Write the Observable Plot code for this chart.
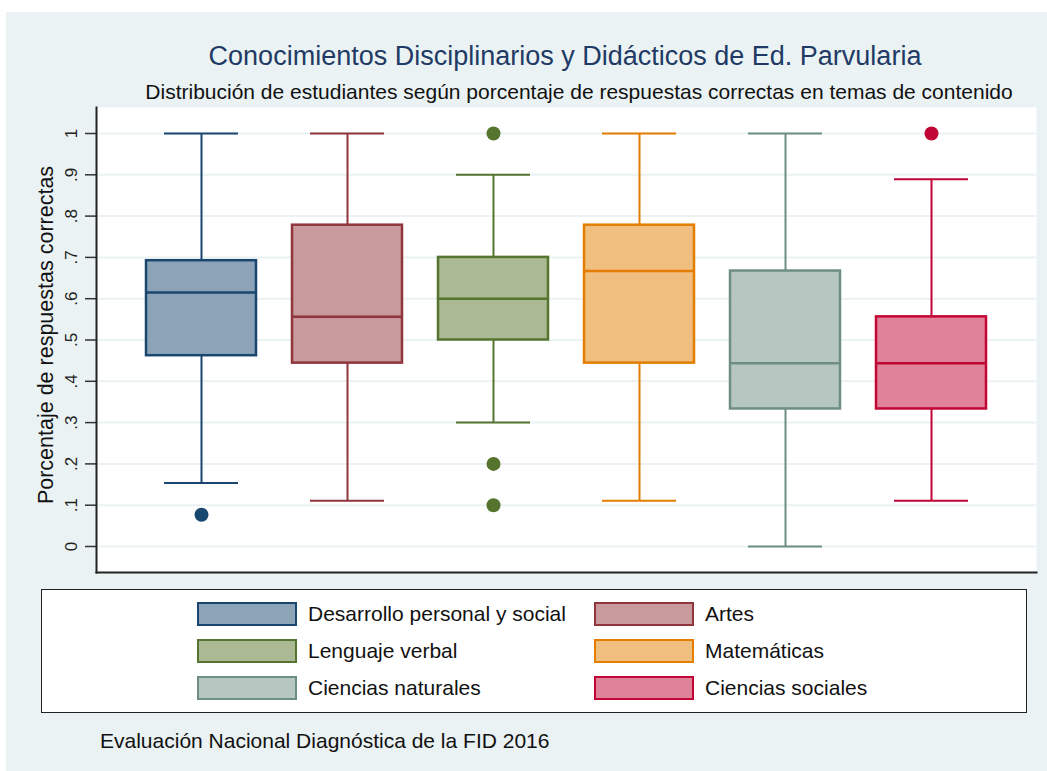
<!DOCTYPE html>
<html>
<head>
<meta charset="utf-8">
<script src="https://cdn.jsdelivr.net/npm/d3@7"></script>
<script src="https://cdn.jsdelivr.net/npm/@observablehq/plot@0.6"></script>
<style>
  html, body { margin: 0; padding: 0; background: #ffffff; }
  body { width: 1047px; height: 771px; position: relative; overflow: hidden; font-family: "Liberation Sans", Arial, sans-serif; }
  #bg { position: absolute; left: 6px; top: 12px; width: 1041px; height: 759px; background: #eaf2f3; }
  .title { position: absolute; white-space: nowrap; transform: translate(-50%, -50%); line-height: 1; }
  #chart { position: absolute; left: 6px; top: 95px; }
  #ylabel { position: absolute; left: 47px; top: 335px; transform: translate(-50%, -50%) rotate(-90deg); font-size: 21.5px; color: #111; white-space: nowrap; line-height: 1; }
  #legend { position: absolute; left: 41px; top: 589px; width: 984px; height: 122px; background: #fff; border: 1.5px solid #222; }
  .item { position: absolute; height: 24px; }
  .sw { position: absolute; left: 0; top: 0; width: 96px; height: 20px; border-width: 2.5px; border-style: solid; }
  .lab { position: absolute; left: 111px; top: 0; line-height: 24px; font-size: 21px; color: #111; white-space: nowrap; }
  #caption { position: absolute; left: 100px; top: 740px; transform: translateY(-50%); line-height: 1; font-size: 21px; color: #111; white-space: nowrap; }
</style>
</head>
<body>
<div id="bg"></div>
<div class="title" id="title" style="left:565px; top:56px; font-size:27px; color:#1f3a64;"></div>
<div class="title" id="subtitle" style="left:579px; top:91px; font-size:21px; color:#111;"></div>
<div id="chart"></div>
<div id="ylabel"></div>
<div id="legend"></div>
<div id="caption"></div>
<script>
const titleText = "Conocimientos Disciplinarios y Didácticos de Ed. Parvularia";
const subtitleText = "Distribución de estudiantes según porcentaje de respuestas correctas en temas de contenido";
const captionText = "Evaluación Nacional Diagnóstica de la FID 2016";
const yLabel = "Porcentaje de respuestas correctas";

const categories = ["Desarrollo personal y social", "Artes", "Lenguaje verbal", "Matemáticas", "Ciencias naturales", "Ciencias sociales"];
const lowerWhisker = [0.154, 0.111, 0.3, 0.111, 0.0, 0.111];
const q1 = [0.462, 0.444, 0.5, 0.444, 0.333, 0.333];
const median = [0.615, 0.556, 0.6, 0.667, 0.444, 0.444];
const q3 = [0.692, 0.778, 0.7, 0.778, 0.667, 0.556];
const upperWhisker = [1.0, 1.0, 0.9, 1.0, 1.0, 0.889];

const outlierCategory = ["Desarrollo personal y social", "Lenguaje verbal", "Lenguaje verbal", "Lenguaje verbal", "Ciencias sociales"];
const outlierValue = [0.077, 1.0, 0.2, 0.1, 1.0];

const strokeColors = ["#1a476f", "#90353b", "#55752f", "#e37e00", "#6e8e84", "#c10534"];
const fillColors = ["#8da3b7", "#c8999d", "#abb994", "#f0be7f", "#b6c6c1", "#e08299"];

const yTicks = [0, 0.1, 0.2, 0.3, 0.4, 0.5, 0.6, 0.7, 0.8, 0.9, 1];
const yTickLabels = ["0", ".1", ".2", ".3", ".4", ".5", ".6", ".7", ".8", ".9", "1"];

document.getElementById("title").textContent = titleText;
document.getElementById("subtitle").textContent = subtitleText;
document.getElementById("caption").textContent = captionText;
document.getElementById("ylabel").textContent = yLabel;

const boxes = categories.map((c, i) => ({
  cat: c, lo: lowerWhisker[i], q1: q1[i], med: median[i], q3: q3[i], hi: upperWhisker[i],
  stroke: strokeColors[i], fill: fillColors[i]
}));
const outliers = outlierCategory.map((c, i) => ({cat: c, v: outlierValue[i], color: strokeColors[categories.indexOf(c)]}));

const chart = Plot.plot({
  width: 1041,
  height: 481,
  marginLeft: 90,
  marginRight: 11,
  marginTop: 12,
  marginBottom: 4,
  style: {background: "transparent", fontFamily: "Liberation Sans, Arial, sans-serif", overflow: "visible"},
  x: {domain: categories, paddingInner: 0.25, paddingOuter: 0.33, axis: null},
  y: {domain: [0, 1], insetTop: 26, insetBottom: 26, axis: null},
  marks: [
    Plot.frame({fill: "white", stroke: null}),
    Plot.gridY(yTicks, {stroke: "#eaf2f3", strokeOpacity: 1, strokeWidth: 2}),
    Plot.ruleX(boxes, {x: "cat", y1: "lo", y2: "hi", stroke: "stroke", strokeWidth: 2}),
    Plot.tickY(boxes, {x: "cat", y: "lo", stroke: "stroke", strokeWidth: 2, insetLeft: 18, insetRight: 18}),
    Plot.tickY(boxes, {x: "cat", y: "hi", stroke: "stroke", strokeWidth: 2, insetLeft: 18, insetRight: 18}),
    Plot.barY(boxes, {x: "cat", y1: "q1", y2: "q3", fill: "fill", stroke: "stroke", strokeWidth: 2.5}),
    Plot.tickY(boxes, {x: "cat", y: "med", stroke: "stroke", strokeWidth: 2.5}),
    Plot.dot(outliers, {x: "cat", y: "v", r: 7, fill: "color", stroke: null}),
    Plot.axisY(yTicks, {
      tickSize: 11, tickPadding: 9, tickRotate: -90, fontSize: 17, color: "#222", stroke: "#333", strokeWidth: 1.5,
      tickFormat: (d) => yTickLabels[yTicks.indexOf(d)],
      label: null
    }),
    Plot.frame({anchor: "left", stroke: "#222", strokeWidth: 2}),
    Plot.frame({anchor: "bottom", stroke: "#222", strokeWidth: 2})
  ]
});
document.getElementById("chart").appendChild(chart);

const legend = document.getElementById("legend");
const colLeft = [155, 552];
const rowTop = [12, 49, 86];
categories.forEach((c, i) => {
  const item = document.createElement("div");
  item.className = "item";
  item.style.left = colLeft[i % 2] + "px";
  item.style.top = rowTop[Math.floor(i / 2)] + "px";
  const sw = document.createElement("div");
  sw.className = "sw";
  sw.style.background = fillColors[i];
  sw.style.borderColor = strokeColors[i];
  const lab = document.createElement("div");
  lab.className = "lab";
  lab.textContent = c;
  item.appendChild(sw);
  item.appendChild(lab);
  legend.appendChild(item);
});
</script>
</body>
</html>
